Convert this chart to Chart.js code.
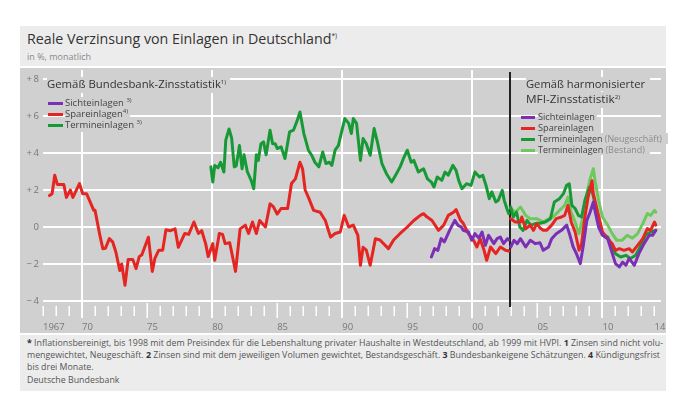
<!DOCTYPE html>
<html><head><meta charset="utf-8">
<script src="https://cdn.jsdelivr.net/npm/chart.js@4.4.1/dist/chart.umd.min.js"></script>
<style>
html,body{margin:0;padding:0}
body{width:673px;height:396px;background:#fff;position:relative;overflow:hidden;font-family:"Open Sans",sans-serif}
.abs{position:absolute;white-space:nowrap}
#hdr{left:20px;top:26px;width:646px;height:40px;background:#ececec}
#panel{left:20px;top:68px;width:646px;height:265px;background:#d0d0d0}
#foot{left:20px;top:335px;width:646px;height:56px;background:#ececec}
#cv{position:absolute;left:20px;top:68px}
.fit{display:inline-block;transform-origin:0 50%}
#title{left:27px;top:29px;font-size:15px;line-height:18px;color:#333}
#sub{left:27px;top:51px;font-size:9px;line-height:12px;color:#888}
.lgt{font-size:11.5px;line-height:14px;color:#333;background:#d0d0d0;padding-right:2px}
.lgr{font-size:9.5px;line-height:11px;color:#444;background:#d0d0d0;padding-right:2px}
.lgr2{font-size:9.2px}
.sw{position:absolute;height:3px}
sup{font-size:6px;vertical-align:0;position:relative;top:-4px}
.lt{color:#8a8a8a}
.fn{left:27px;font-size:9px;line-height:12px;color:#555}
.fn b{color:#333}
</style></head>
<body>
<div class="abs" id="hdr"></div>
<div class="abs" id="panel"></div>
<div class="abs" id="foot"></div>
<canvas id="cv" width="646" height="265"></canvas>

<div class="abs" id="title"><span class="fit" data-w="310">Reale Verzinsung von Einlagen in Deutschland<sup style="font-size:7px;top:-6px">*)</sup></span></div>
<div class="abs" id="sub">in %, monatlich</div>

<div class="abs lgt" style="left:47px;top:77px"><span class="fit" data-w="179">Gemäß Bundesbank-Zinsstatistik<sup>1)</sup></span></div>
<div class="sw" style="left:48px;top:102px;width:15px;background:#7a2fb5"></div>
<div class="sw" style="left:48px;top:113px;width:15px;background:#e52521"></div>
<div class="sw" style="left:48px;top:124px;width:15px;background:#179a35"></div>
<div class="abs lgr" style="left:65px;top:97px">Sichteinlagen <sup>3)</sup></div>
<div class="abs lgr" style="left:65px;top:108px">Spareinlagen<sup>4)</sup></div>
<div class="abs lgr" style="left:65px;top:119px">Termineinlagen <sup>3)</sup></div>

<div class="abs lgt" style="left:526px;top:77px"><span class="fit" data-w="119">Gemäß harmonisierter</span></div>
<div class="abs lgt" style="left:526px;top:92px"><span class="fit" data-w="94">MFI-Zinsstatistik<sup>2)</sup></span></div>
<div class="sw" style="left:521px;top:116px;width:14px;background:#7a2fb5"></div>
<div class="sw" style="left:521px;top:127px;width:14px;background:#e52521"></div>
<div class="sw" style="left:521px;top:138px;width:14px;background:#179a35"></div>
<div class="sw" style="left:521px;top:149px;width:14px;background:#6dc95c"></div>
<div class="abs lgr lgr2" style="left:538px;top:111px">Sichteinlagen</div>
<div class="abs lgr lgr2" style="left:538px;top:122px">Spareinlagen</div>
<div class="abs lgr lgr2" style="left:538px;top:133px"><span class="fit" data-w="124">Termineinlagen <span class="lt">(Neugeschäft)</span></span></div>
<div class="abs lgr lgr2" style="left:538px;top:144px"><span class="fit" data-w="107">Termineinlagen <span class="lt">(Bestand)</span></span></div>

<div class="abs fn" style="top:337px"><span class="fit fnl" data-w="636"><b>*</b> Inflationsbereinigt, bis 1998 mit dem Preisindex für die Lebenshaltung privater Haushalte in Westdeutschland, ab 1999 mit HVPI. <b>1</b> Zinsen sind nicht volu-</span></div>
<div class="abs fn" style="top:349px"><span class="fit fnl" data-w="633">mengewichtet, Neugeschäft. <b>2</b> Zinsen sind mit dem jeweiligen Volumen gewichtet, Bestandsgeschäft. <b>3</b> Bundesbankeigene Schätzungen. <b>4</b> Kündigungsfrist</span></div>
<div class="abs fn" style="top:361px"><span class="fit fnl">bis drei Monate.</span></div>
<div class="abs fn" style="top:374px"><span class="fit fnl">Deutsche Bundesbank</span></div>

<script>
// ---------- data ----------
const tickYears  = [1967,1970,1975,1980,1985,1990,1995,2000,2005,2010,2014];
const tickLabels = ['1967','70','75','80','85','90','95','00','05','10','14'];
const yTickValues = [-4,-2,0,2,4,6,8];
const yTickLabels = ['\u2212\u20094','\u2212\u20092','0','+\u20092','+\u20094','+\u20096','+\u20098'];
const breakYear = 2002.88;

// Bundesbank-Zinsstatistik
const spareBB_t = [1967.5,1967.7,1967.9,1968.1,1968.6,1968.8,1969.1,1969.3,1969.8,1970.05,1970.35,1970.9,1971.0,1971.4,1971.6,1971.8,1972.1,1972.35,1972.6,1972.9,1973.05,1973.3,1973.55,1973.9,1974.15,1974.4,1974.6,1975.1,1975.4,1975.6,1975.9,1976.2,1976.45,1976.8,1977.15,1977.4,1977.9,1978.2,1978.6,1978.95,1979.2,1979.5,1979.7,1980.05,1980.2,1980.55,1980.8,1981.0,1981.35,1981.8,1982.15,1982.55,1982.8,1983.1,1983.4,1983.65,1984.1,1984.45,1984.7,1985.0,1985.3,1985.8,1986.1,1986.4,1986.75,1986.95,1987.15,1987.4,1987.8,1988.3,1988.7,1989.1,1989.45,1989.85,1990.15,1990.5,1990.85,1991.2,1991.4,1991.6,1991.85,1992.15,1992.55,1992.9,1993.55,1993.95,1994.45,1995.0,1995.5,1996.0,1996.25,1996.5,1996.9,1997.4,1997.8,1998.15,1998.55,1998.75,1999.1,1999.3,1999.7,2000.1,2000.35,2000.6,2000.9,2001.1,2001.4,2001.8,2002.15,2002.55,2002.8];
const spareBB_v = [1.7,1.8,2.8,2.3,2.3,1.6,2.0,1.6,2.35,1.8,1.8,0.9,0.9,-0.55,-1.17,-1.15,-0.63,-0.8,-1.35,-2.35,-2.0,-3.15,-1.75,-1.75,-2.25,-1.6,-1.5,-0.55,-2.4,-1.7,-1.25,-1.25,-0.15,-0.2,-0.1,-1.1,-0.35,-0.4,0.27,-0.35,-0.2,-0.9,-1.6,-0.9,-1.8,-0.35,-0.4,-0.9,-0.85,-2.4,-0.1,0.1,-0.35,0.27,-0.35,0.35,0.0,1.25,1.1,0.7,1.0,1.0,2.35,2.6,3.5,3.15,2.0,1.6,0.9,0.8,0.35,-0.55,-0.35,-0.27,0.63,0.0,0.1,-0.45,-2.07,-1.1,-1.25,-2.07,-0.63,-0.7,-1.17,-0.7,-0.35,0.0,0.35,0.63,0.72,0.55,0.35,-0.18,0.1,0.63,0.8,0.94,0.36,0.2,-0.36,-0.72,-1.08,-0.63,-1.26,-1.8,-1.08,-1.44,-1.08,-1.26,-1.3];

const terminBB_t = [1979.9,1980.05,1980.2,1980.45,1980.65,1980.9,1981.05,1981.3,1981.5,1981.7,1981.85,1982.1,1982.3,1982.45,1982.7,1983.0,1983.2,1983.4,1983.55,1983.75,1983.95,1984.15,1984.45,1984.65,1984.85,1985.0,1985.3,1985.6,1985.95,1986.25,1986.5,1986.75,1987.05,1987.4,1987.65,1987.9,1988.2,1988.5,1988.75,1989.0,1989.2,1989.45,1989.7,1989.95,1990.2,1990.5,1990.7,1990.85,1991.1,1991.4,1991.6,1991.85,1992.15,1992.45,1992.7,1993.05,1993.4,1993.8,1994.1,1994.45,1994.75,1995.0,1995.3,1995.5,1995.85,1996.25,1996.55,1996.85,1997.05,1997.3,1997.65,1997.9,1998.15,1998.5,1998.75,1998.95,1999.2,1999.55,1999.9,2000.2,2000.55,2000.8,2001.05,2001.3,2001.5,2001.8,2002.0,2002.3,2002.45,2002.65,2002.8];
const terminBB_v = [3.25,2.43,3.33,3.2,3.5,2.97,4.7,5.3,4.8,3.25,3.3,4.4,3.15,3.9,3.0,2.52,2.07,3.9,3.6,4.5,4.6,3.9,5.23,4.5,4.5,4.24,4.33,3.7,5.14,5.23,5.68,6.22,5.05,4.15,3.88,3.5,3.25,4.05,3.43,3.5,3.33,4.15,4.4,5.14,5.86,5.6,5.05,5.86,5.6,3.6,4.78,4.5,3.88,5.32,4.6,3.43,2.88,2.43,2.8,3.25,3.78,4.15,3.5,3.6,2.97,3.15,2.6,2.43,2.16,2.7,2.52,2.97,2.8,3.33,3.06,2.52,2.07,2.34,2.25,2.97,2.7,2.8,2.25,1.53,1.9,1.35,1.45,1.98,1.44,1.0,0.72];

const sichtBB_t = [1996.85,1997.1,1997.35,1997.6,1997.85,1998.25,1998.65,1998.9,1999.15,1999.3,1999.7,1999.95,2000.2,2000.5,2000.75,2001.0,2001.25,2001.65,2001.9,2002.15,2002.4,2002.7,2002.8];
const sichtBB_v = [-1.62,-1.17,-1.26,-0.63,-0.8,-0.18,0.36,0.09,0.0,-0.18,-0.27,-0.72,-0.36,-0.6,-0.27,-0.99,-0.45,-0.9,-0.63,-0.54,-0.9,-0.63,-0.7];

// harmonisierte MFI-Zinsstatistik
const sichtMFI_t = [2002.95,2003.2,2003.45,2003.7,2004.1,2004.45,2004.85,2005.2,2005.45,2005.85,2006.1,2006.45,2006.85,2007.25,2007.5,2007.75,2008.0,2008.3,2008.55,2008.8,2009.05,2009.3,2009.45,2009.7,2010.0,2010.4,2010.6,2011.0,2011.3,2011.55,2011.8,2012.05,2012.45,2012.8,2013.2,2013.6,2013.85,2014.1];
const sichtMFI_v = [-1.08,-0.72,-0.9,-0.63,-1.08,-0.72,-0.9,-0.85,-1.26,-1.08,-0.63,-0.36,-0.18,0.1,-0.45,-1.08,-1.44,-1.98,-0.9,0.36,0.8,1.35,0.8,0.0,-0.45,-0.63,-1.08,-1.98,-2.16,-1.9,-2.07,-1.7,-2.07,-1.44,-0.9,-0.45,-0.45,-0.18];

const spareMFI_t = [2002.95,2003.3,2003.7,2003.8,2004.1,2004.45,2004.7,2004.95,2005.2,2005.45,2005.7,2006.1,2006.45,2006.85,2007.1,2007.35,2007.6,2007.9,2008.2,2008.4,2008.65,2008.9,2009.2,2009.3,2009.6,2009.85,2010.0,2010.4,2010.75,2011.0,2011.3,2011.65,2012.05,2012.3,2012.7,2013.1,2013.45,2013.7,2014.0,2014.1];
const spareMFI_v = [0.45,0.27,0.27,0.54,-0.1,0.1,-0.18,0.18,-0.05,-0.18,-0.18,0.1,0.45,0.54,0.63,1.17,0.27,-0.27,-1.26,-0.9,0.54,1.62,2.5,1.8,0.9,0.18,-0.27,-0.63,-0.9,-1.26,-1.17,-1.26,-1.17,-1.35,-0.99,-0.63,-0.09,-0.18,0.27,0.1];

const terminNeu_t = [2002.95,2003.15,2003.4,2003.65,2003.9,2004.2,2004.5,2004.9,2005.2,2005.6,2006.0,2006.3,2006.7,2007.0,2007.25,2007.45,2007.65,2007.9,2008.15,2008.4,2008.65,2009.0,2009.25,2009.45,2009.7,2010.0,2010.4,2010.75,2011.0,2011.4,2011.8,2012.15,2012.55,2012.9,2013.3,2013.7,2014.1];
const terminNeu_v = [1.08,0.54,0.8,0.0,-0.18,0.36,0.1,0.2,0.2,0.27,0.45,1.35,1.53,1.8,2.25,2.34,1.17,1.0,0.63,0.54,1.44,2.16,1.8,1.2,0.36,-0.36,-0.54,-1.08,-1.44,-1.62,-1.53,-1.7,-1.53,-1.08,-0.45,-0.27,-0.18];

const terminBest_t = [2002.95,2003.3,2003.7,2004.1,2004.45,2004.95,2005.45,2005.9,2006.2,2006.7,2007.1,2007.35,2007.6,2007.9,2008.2,2008.5,2008.75,2009.05,2009.3,2009.45,2009.7,2010.0,2010.4,2010.75,2011.1,2011.5,2011.9,2012.3,2012.7,2013.1,2013.45,2013.7,2014.0,2014.1];
const terminBest_v = [1.0,0.8,1.08,0.63,0.45,0.45,0.27,0.45,0.54,0.9,1.17,1.62,0.8,0.27,-0.36,0.54,1.62,2.6,3.15,2.43,1.44,0.54,0.1,-0.36,-0.72,-0.72,-0.45,-0.6,-0.36,0.18,0.72,0.63,0.9,0.8];

// ---------- styles ----------
const PURPLE='#7a2fb5', RED='#e52521', DGREEN='#179a35', LGREEN='#6dc95c';
const FONT = '"Open Sans", sans-serif';

function pts(t,v){ return t.map((x,i)=>({x:x, y:v[i]})); }
function ds(label,t,v,color){ return {label, data:pts(t,v), borderColor:color, backgroundColor:color, fill:false}; }

const yearMarks = {
  id:'yearMarks',
  beforeDatasetsDraw(chart){
    const {ctx, chartArea:a, scales:{x}} = chart;
    ctx.save();
    ctx.strokeStyle='#ffffff';
    for(let yr=Math.ceil(x.min); yr<=Math.floor(x.max); yr++){
      const px = Math.round(x.getPixelForValue(yr));
      ctx.beginPath();
      if(yr%10===0){ ctx.lineWidth=2; ctx.moveTo(px,a.top-9); ctx.lineTo(px,a.bottom+17); }
      else if(yr%5===0){ ctx.lineWidth=1.5; ctx.moveTo(px+0.25,a.bottom+2); ctx.lineTo(px+0.25,a.bottom+17); }
      else { ctx.lineWidth=1.5; ctx.moveTo(px+0.25,a.bottom+5); ctx.lineTo(px+0.25,a.bottom+15); }
      ctx.stroke();
    }
    const bx = Math.round(x.getPixelForValue(breakYear));
    ctx.strokeStyle='#222'; ctx.lineWidth=2;
    ctx.beginPath(); ctx.moveTo(bx,a.top-7); ctx.lineTo(bx,a.bottom+6); ctx.stroke();
    ctx.restore();
  }
};

new Chart(document.getElementById('cv'), {
  type:'line',
  data:{ datasets:[
    ds('Sichteinlagen (Bundesbank)', sichtBB_t, sichtBB_v, PURPLE),
    ds('Sichteinlagen (MFI)', sichtMFI_t, sichtMFI_v, PURPLE),
    ds('Spareinlagen (Bundesbank)', spareBB_t, spareBB_v, RED),
    ds('Spareinlagen (MFI)', spareMFI_t, spareMFI_v, RED),
    ds('Termineinlagen (Bundesbank)', terminBB_t, terminBB_v, DGREEN),
    ds('Termineinlagen (Neugeschäft)', terminNeu_t, terminNeu_v, DGREEN),
    ds('Termineinlagen (Bestand)', terminBest_t, terminBest_v, LGREEN)
  ]},
  options:{
    responsive:false, animation:false, devicePixelRatio:1,
    elements:{ line:{borderWidth:3, tension:0, borderJoinStyle:'round', borderCapStyle:'round'}, point:{radius:0, hoverRadius:0} },
    layout:{ padding:{top:11, right:5, left:0, bottom:0} },
    plugins:{ legend:{display:false}, tooltip:{enabled:false} },
    scales:{
      x:{ type:'linear', min:1967, max:2014.5,
          afterBuildTicks:s=>{ s.ticks = tickYears.map(v=>({value:v})); },
          afterFit:s=>{ s.height=32; s.paddingLeft=0; s.paddingRight=0; },
          grid:{display:false}, border:{display:false},
          ticks:{ align:'start', padding:13, autoSkip:false, maxRotation:0, minRotation:0, color:'#777',
                  font:{size:9.5, family:FONT},
                  callback:(v)=>{ const i=tickYears.indexOf(v); return i<0?'':tickLabels[i]; } } },
      y:{ min:-4, max:8,
          afterBuildTicks:s=>{ s.ticks = yTickValues.map(v=>({value:v})); },
          afterFit:s=>{ s.width=23; s.paddingTop=0; s.paddingBottom=0; },
          grid:{ color:'#ffffff', lineWidth:2, drawTicks:false }, border:{display:false},
          ticks:{ padding:4, color:'#777', font:{size:9.5, family:FONT},
                  callback:(v)=>{ const i=yTickValues.indexOf(v); return i<0?'':yTickLabels[i]; } } }
    }
  },
  plugins:[yearMarks]
});

// fit some texts to measured widths of the reference
function fitTexts(){
  document.querySelectorAll('.fit[data-w]').forEach(el=>{
    el.style.transform='none';
    const w = el.getBoundingClientRect().width;
    const t = +el.dataset.w;
    if(w>0) el.style.transform = 'scaleX('+(t/w)+')';
  });
  const first = document.querySelector('.fnl[data-w]');
  const sc = first.style.transform;
  document.querySelectorAll('.fnl:not([data-w])').forEach(el=>{ el.style.transform = sc; });
}
fitTexts();
if(document.fonts && document.fonts.ready) document.fonts.ready.then(fitTexts);
</script>
</body></html>
